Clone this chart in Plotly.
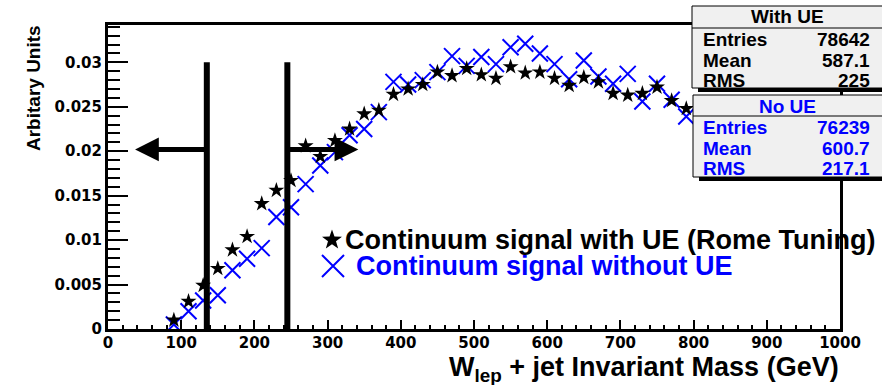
import math
import plotly.graph_objects as go

# ---------------- data ----------------
mass_bins = [90, 110, 130, 150, 170, 190, 210, 230, 250, 270, 290, 310, 330, 350,
             370, 390, 410, 430, 450, 470, 490, 510, 530, 550, 570, 590, 610, 630,
             650, 670, 690, 710, 730, 750, 770, 790]
with_ue = [0.0010, 0.0031, 0.0049, 0.0068, 0.0089, 0.0104, 0.0141, 0.0156, 0.0167,
           0.0206, 0.0194, 0.0212, 0.0225, 0.0242, 0.0246, 0.0264, 0.0270, 0.0275,
           0.0289, 0.0285, 0.0293, 0.0286, 0.0282, 0.0295, 0.0288, 0.0289, 0.0282,
           0.0274, 0.0283, 0.0278, 0.0265, 0.0263, 0.0265, 0.0272, 0.0257, 0.0248]
no_ue = [0.0005, 0.0020, 0.0032, 0.0038, 0.0066, 0.0079, 0.0091, 0.0126, 0.0137,
         0.0163, 0.0184, 0.0199, 0.0218, 0.0225, 0.0244, 0.0278, 0.0275, 0.0280,
         0.0289, 0.0307, 0.0296, 0.0306, 0.0298, 0.0317, 0.0321, 0.0310, 0.0298,
         0.0281, 0.0302, 0.0284, 0.0276, 0.0287, 0.0256, 0.0276, 0.0258, 0.0239]

x_tick_vals = [0, 100, 200, 300, 400, 500, 600, 700, 800, 900, 1000]
x_tick_labels = ["0", "100", "200", "300", "400", "500", "600", "700", "800", "900", "1000"]
y_tick_vals = [0, 0.005, 0.01, 0.015, 0.02, 0.025, 0.03]
y_tick_labels = ["0", "0.005", "0.01", "0.015", "0.02", "0.025", "0.03"]

cut_low = 135
cut_high = 245
cut_top = 0.030
arrow_y = 0.0202
arrow_left_tip = 37
arrow_right_tip = 342

stats_with = {"title": "With UE", "Entries": "78642", "Mean": "587.1", "RMS": "225"}
stats_no = {"title": "No UE", "Entries": "76239", "Mean": "600.7", "RMS": "217.1"}

legend_with = "Continuum signal with UE (Rome Tuning)"
legend_no = "Continuum signal without UE"
x_title = "W<sub>lep</sub> + jet Invariant Mass (GeV)"
y_title = "Arbitary Units"

# ---------------- geometry ----------------
W, H = 882, 385
L, R, T, B = 108, 840, 25, 329
BLUE = "#0000ff"
FONT = "Liberation Sans"
TICKFONT = "DejaVu Sans"


def px(x):
    return (x - L) / (R - L)


def py(y):
    return (B - y) / (B - T)


fig = go.Figure()
fig.add_trace(go.Scatter(
    x=mass_bins, y=no_ue, mode="markers", name=legend_no,
    marker=dict(symbol="x-thin", size=16, color=BLUE, line=dict(color=BLUE, width=2)),
    showlegend=False))
fig.add_trace(go.Scatter(
    x=mass_bins, y=with_ue, mode="markers", name=legend_with,
    marker=dict(symbol="star", size=12, color="black", line=dict(width=0)),
    showlegend=False))

shapes = []
# cut lines
for xc in (cut_low, cut_high):
    shapes.append(dict(type="line", xref="x", yref="y", x0=xc, x1=xc, y0=0, y1=cut_top,
                       line=dict(color="black", width=6), layer="above"))


def stat_box(x0, y0, y1, ysep):
    x1 = 890
    out = []
    out.append(dict(type="rect", xref="paper", yref="paper",
                    x0=px(x0 + 6), x1=px(x1 + 6), y0=py(y0 + 4), y1=py(y1 + 4),
                    fillcolor="black", line=dict(width=0), layer="above"))
    out.append(dict(type="rect", xref="paper", yref="paper",
                    x0=px(x0), x1=px(x1), y0=py(y0), y1=py(y1),
                    fillcolor="#f0f0f0", line=dict(color="black", width=1), layer="above"))
    out.append(dict(type="line", xref="paper", yref="paper",
                    x0=px(x0), x1=px(x1), y0=py(ysep), y1=py(ysep),
                    line=dict(color="black", width=1), layer="above"))
    return out


shapes += stat_box(692, 6, 88, 28)
shapes += stat_box(693, 95, 177, 116)

# legend symbols
sx, sy, ro, ri = 332, 240, 10.5, 4.2
pts = []
for k in range(10):
    ang = math.pi / 2 + k * math.pi / 5
    r = ro if k % 2 == 0 else ri
    pts.append((px(sx + r * math.cos(ang)), py(sy - r * math.sin(ang))))
star_path = "M " + " L ".join(f"{a:.5f},{b:.5f}" for a, b in pts) + " Z"
shapes.append(dict(type="path", xref="paper", yref="paper", path=star_path,
                   fillcolor="black", line=dict(width=0), layer="above"))
cx, cy, hs = 333, 266, 11
shapes.append(dict(type="path", xref="paper", yref="paper",
                   path=f"M {px(cx-hs)},{py(cy-hs)} L {px(cx+hs)},{py(cy+hs)} "
                        f"M {px(cx-hs)},{py(cy+hs)} L {px(cx+hs)},{py(cy-hs)}",
                   line=dict(color=BLUE, width=2), layer="above"))

ann = []


def text(x, y, s, size, color="black", xanchor="left", yanchor="middle", angle=0, family=FONT):
    ann.append(dict(xref="paper", yref="paper", x=px(x), y=py(y), text=f"<b>{s}</b>",
                    showarrow=False, xanchor=xanchor, yanchor=yanchor, textangle=angle,
                    borderpad=0, font=dict(family=family, size=size, color=color)))


# stats texts
def stat_text(d, xc, ytitle, yrows, color):
    text(xc, ytitle, d["title"], 19, color, xanchor="center")
    for key, yy in zip(["Entries", "Mean", "RMS"], yrows):
        text(702, yy, key, 19, color, xanchor="left")
        text(871, yy, d[key], 19, color, xanchor="right")


stat_text(stats_with, 787, 17, [40, 60, 80], "black")
stat_text(stats_no, 787, 106, [128, 148, 168], BLUE)

text(344, 240, legend_with, 27, "black")
text(355, 266, legend_no, 27, BLUE)
text(840, 369, x_title, 27, "black", xanchor="right")
text(34, 24, y_title, 19, "black", xanchor="center", yanchor="top", angle=-90)

# arrows
for tip, base in ((arrow_left_tip, cut_low), (arrow_right_tip, cut_high)):
    ann.append(dict(xref="x", yref="y", x=tip, y=arrow_y, axref="x", ayref="y",
                    ax=base, ay=arrow_y, text="", showarrow=True, arrowhead=2,
                    arrowsize=0.95, arrowwidth=5, arrowcolor="black", standoff=0))

axis_common = dict(showgrid=False, zeroline=False, showline=True, linecolor="black",
                   linewidth=3, mirror=True, ticks="inside", tickcolor="black")

fig.update_layout(
    width=W, height=H, margin=dict(l=L, r=W - R, t=T, b=H - B, pad=0),
    paper_bgcolor="white", plot_bgcolor="white", showlegend=False,
    xaxis=dict(range=[0, 1000], tickmode="array", tickvals=x_tick_vals, ticktext=x_tick_labels,
               ticklen=9, tickwidth=2,
               minor=dict(tickmode="linear", tick0=0, dtick=20, ticklen=4, tickwidth=2,
                          ticks="inside", tickcolor="black"),
               tickfont=dict(family=TICKFONT, size=15, color="black", weight="bold"),
               **axis_common),
    yaxis=dict(range=[0, 0.0342], tickmode="array", tickvals=y_tick_vals, ticktext=y_tick_labels,
               ticklen=20, tickwidth=2,
               minor=dict(tickmode="linear", tick0=0, dtick=0.001, ticklen=12, tickwidth=2,
                          ticks="inside", tickcolor="black"),
               tickfont=dict(family=TICKFONT, size=15, color="black", weight="bold"),
               **axis_common),
    shapes=shapes, annotations=ann,
)
try:
    fig.update_xaxes(ticklabelstandoff=-2)
except ValueError:
    pass

fig.write_html("out.html")
